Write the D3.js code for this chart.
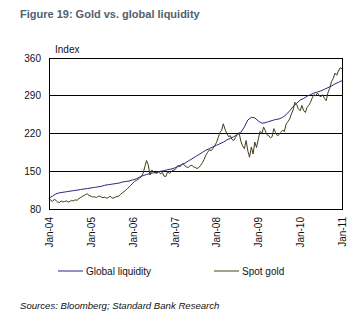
<!DOCTYPE html>
<html>
<head>
<meta charset="utf-8">
<script src="https://cdn.jsdelivr.net/npm/d3@7"></script>
<style>
  body { margin: 0; background: #fff; }
  text { font-family: "Liberation Sans", Arial, sans-serif; }
</style>
</head>
<body>
<svg width="354" height="326"></svg>
<script>
// Y axis ticks and x axis years
const yTicks = [80, 150, 220, 290, 360];
const xYears = [2004, 2005, 2006, 2007, 2008, 2009, 2010, 2011];

// Global liquidity, monthly from Jan-04 to Jan-11
const liquidity = [
  100, 104, 108, 110, 111, 112, 113, 114, 115, 116, 117, 118,
  119, 120, 121, 122, 124, 125, 126, 127, 128, 130, 131, 132,
  134, 136, 139, 142, 144, 146, 147, 148, 150, 151, 153, 154,
  156, 159, 162, 165, 169, 173, 177, 181, 185, 189, 192, 195,
  198, 201, 204, 208, 211, 214, 218, 222, 232, 245, 250, 249,
  243, 239, 240, 242, 244, 246, 247, 250, 255, 262, 270, 276,
  282, 285, 289, 292, 295, 297, 299, 302, 305, 308, 312, 315,
  318
];

// Spot gold, twice a month (1st and 16th) from Jan-04 to Jan-11
const gold = [
  100, 96, 94, 98, 96, 93, 92, 95, 93, 94, 95, 93, 94, 96, 95, 97, 96, 99, 101, 103, 105, 107, 108, 105,
  104, 102, 103, 101, 103, 104, 102, 101, 102, 100, 101, 104, 101, 100, 102, 103, 104, 107, 110, 112, 115, 118, 121, 124,
  128, 131, 133, 135, 137, 140, 146, 158, 170, 162, 143, 152, 149, 147, 146, 150, 145, 148, 141, 140, 149, 146, 148, 152,
  152, 156, 161, 158, 162, 164, 160, 158, 157, 160, 161, 158, 157, 155, 157, 161, 166, 172, 180, 185, 190, 188, 192, 197,
  203, 212, 222, 226, 238, 228, 220, 214, 216, 209, 207, 213, 218, 222, 206, 197, 192, 207, 188, 176, 195, 182, 204, 194,
  210, 224, 220, 232, 226, 218, 216, 212, 214, 229, 222, 216, 218, 222, 226, 224, 238, 242, 247, 256, 264, 278, 274, 266,
  262, 272, 262, 259, 268, 272, 278, 286, 292, 290, 295, 290, 288, 292, 285, 281, 296, 304, 316, 322, 332, 328, 336, 342,
  340
];

const svg = d3.select("svg");

const margin = { left: 49, top: 58, right: 342, bottom: 209 };

const x = d3.scaleTime()
  .domain([new Date(2004, 0, 1), new Date(2011, 0, 1)])
  .range([margin.left, margin.right]);

const y = d3.scaleLinear()
  .domain([80, 360])
  .range([margin.bottom, margin.top]);

// Title
svg.append("text")
  .attr("x", 20)
  .attr("y", 18)
  .attr("fill", "#53606e")
  .attr("font-size", "11px")
  .attr("font-weight", "bold")
  .text("Figure 19: Gold vs. global liquidity");

svg.append("text")
  .attr("x", 55)
  .attr("y", 52.5)
  .attr("font-size", "10px")
  .attr("fill", "#111")
  .text("Index");

// Horizontal grid lines
svg.append("g")
  .selectAll("line")
  .data(yTicks.slice(1, -1))
  .enter()
  .append("line")
  .attr("x1", margin.left)
  .attr("x2", margin.right)
  .attr("y1", d => y(d))
  .attr("y2", d => y(d))
  .attr("stroke", "#000")
  .attr("stroke-width", 1)
  .attr("shape-rendering", "crispEdges");

// Y axis labels
const yAxis = d3.axisLeft(y).tickValues(yTicks).tickSize(0).tickPadding(8);
svg.append("g")
  .attr("transform", `translate(${margin.left},0)`)
  .call(yAxis)
  .call(g => g.select(".domain").remove())
  .selectAll("text")
  .attr("font-size", "10px")
  .attr("font-family", "Liberation Sans, Arial, sans-serif")
  .attr("fill", "#111");

// X axis labels, rotated
const xAxis = d3.axisBottom(x)
  .tickValues(xYears.map(yr => new Date(yr, 0, 1)))
  .tickFormat(d3.timeFormat("Jan-%y"))
  .tickSize(0);

svg.append("g")
  .attr("transform", `translate(0,${margin.bottom})`)
  .call(xAxis)
  .call(g => g.select(".domain").remove())
  .selectAll("text")
  .attr("font-size", "10px")
  .attr("font-family", "Liberation Sans, Arial, sans-serif")
  .attr("fill", "#111")
  .attr("text-anchor", "end")
  .attr("transform", "rotate(-90)")
  .attr("x", -8)
  .attr("y", 0)
  .attr("dy", "0.35em");

// Series lines
const liqLine = d3.line()
  .x((d, i) => x(new Date(2004, i, 1)))
  .y(d => y(d));

const goldLine = d3.line()
  .x((d, i) => x(new Date(2004, Math.floor(i / 2), i % 2 ? 16 : 1)))
  .y(d => y(d));

svg.append("path")
  .datum(liquidity)
  .attr("d", liqLine)
  .attr("fill", "none")
  .attr("stroke", "#222a7c")
  .attr("stroke-width", 1);

svg.append("path")
  .datum(gold)
  .attr("d", goldLine)
  .attr("fill", "none")
  .attr("stroke", "#3f3d16")
  .attr("stroke-width", 1);

// Plot frame
svg.append("rect")
  .attr("x", margin.left)
  .attr("y", margin.top)
  .attr("width", margin.right - margin.left)
  .attr("height", margin.bottom - margin.top)
  .attr("fill", "none")
  .attr("stroke", "#000")
  .attr("stroke-width", 1)
  .attr("shape-rendering", "crispEdges");

// Legend
const legend = svg.append("g");
const legendItems = [
  { name: "Global liquidity", color: "#222a7c", x: 58 },
  { name: "Spot gold", color: "#4a4412", x: 214 }
];

legend.selectAll("line")
  .data(legendItems)
  .enter()
  .append("line")
  .attr("x1", d => d.x)
  .attr("x2", d => d.x + 25)
  .attr("y1", 271)
  .attr("y2", 271)
  .attr("stroke", d => d.color)
  .attr("stroke-width", 1);

legend.selectAll("text")
  .data(legendItems)
  .enter()
  .append("text")
  .attr("x", d => d.x + 28)
  .attr("y", 274.5)
  .attr("font-size", "10px")
  .attr("fill", "#111")
  .text(d => d.name);

// Source note
svg.append("text")
  .attr("x", 20)
  .attr("y", 309)
  .attr("font-size", "9.6px")
  .attr("font-style", "italic")
  .attr("fill", "#111")
  .text("Sources: Bloomberg; Standard Bank Research");
</script>
</body>
</html>
